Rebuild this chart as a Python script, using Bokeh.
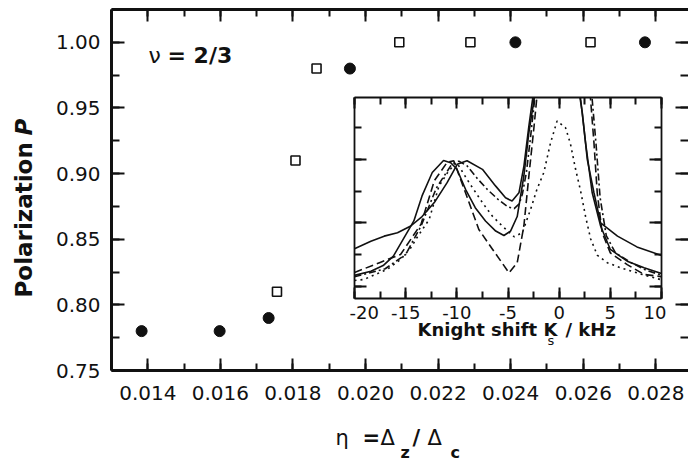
import math
from bokeh.plotting import figure
from bokeh.models import (Range1d, LinearAxis, Label, SingleIntervalTicker,
                          NumeralTickFormatter)
from bokeh.embed import file_html
from bokeh.resources import INLINE

FONT = "DejaVu Sans"
INK = "#111111"
W, H = 688, 461

# ---------------- main panel data ----------------
eta_filled = [0.01383, 0.01598, 0.01733, 0.01957, 0.02413, 0.0277]
pol_filled = [0.78, 0.78, 0.79, 0.98, 1.00, 1.00]
eta_open = [0.01756, 0.01807, 0.01865, 0.02093, 0.02289, 0.0262]
pol_open = [0.81, 0.91, 0.98, 1.00, 1.00, 1.00]

# ---------------- inset spectra (Knight shift kHz, intensity a.u.) ----------------
kA = [-20, -18.4, -17.2, -16.2, -14.2, -13.4, -12.4, -11.3, -10.6, -10.0, -9.15, -8.2, -7.2, -6.2,
      -5.4, -4.75, -4.1, -3.45, -2.96, -2.45, -2.2, 1.9, 2.1, 2.58, 3.23, 4.05, 5.0, 6.65, 8.3, 10]
yA = [0.34, 0.47, 0.65, 0.95, 2.06, 2.85, 3.59, 3.97, 3.9, 3.7, 3.06, 2.48, 2.06, 1.74,
      1.6, 1.74, 2.2, 3.48, 4.85, 5.9, 6.6, 6.6, 5.9, 4.53, 2.95, 1.9, 1.16, 0.79, 0.58, 0.4]

kB = [-20, -18.4, -17.1, -15.8, -14.5, -13.4, -12.2, -10.95, -9.96, -9.0, -7.5, -6.2, -5.24, -4.6,
      -3.93, -3.44, -2.96, -2.6, -2.4, 1.85, 2.03, 2.26, 2.75, 3.4, 4.05, 5.7, 7.6, 10]
yB = [1.18, 1.42, 1.58, 1.69, 1.9, 2.2, 2.64, 3.27, 3.85, 3.96, 3.69, 3.16, 2.79, 2.69,
      2.95, 3.8, 5.06, 5.9, 6.6, 6.6, 5.96, 5.48, 4.0, 2.95, 2.0, 1.58, 1.24, 0.97]

kC = [-20, -17.5, -15.5, -13.5, -12.2, -10.95, -10.3, -9.15, -7.85, -6.5, -4.9, -4.1, -3.45,
      -2.96, -2.45, -2.2, -2.0, 2.9, 3.07, 3.4, 3.72, 4.2, 5.0, 6.65, 8.3, 10]
yC = [0.43, 0.75, 1.0, 1.96, 3.33, 3.91, 3.96, 2.95, 1.79, 1.16, 0.42, 0.74, 1.9,
      3.48, 5.06, 5.9, 6.6, 6.6, 5.9, 4.53, 2.95, 1.69, 1.05, 0.68, 0.37, 0.3]

kD = [-20, -17, -15, -13.5, -12, -10.5, -9.8, -9.0, -8.0, -7.0, -6.0, -5.0, -4.4, -3.9, -3.6,
      -3.2, -2.8, -2.4, -2.2, 3.0, 3.2, 3.6, 4.0, 4.6, 5.5, 7, 8.5, 10]
yD = [0.3, 0.55, 1.0, 1.9, 3.1, 3.85, 3.95, 3.8, 3.4, 3.05, 2.75, 2.5, 2.45, 2.6, 2.9,
      3.6, 4.7, 5.9, 6.6, 6.6, 6.0, 4.5, 2.8, 1.6, 1.05, 0.75, 0.5, 0.35]

kE = [-20, -19.1, -16.8, -15.5, -14.5, -13.9, -12.7, -11.75, -10.8, -10.0, -8.8, -7.5, -6.55,
      -5.56, -4.4, -3.6, -2.8, -2.17, -1.5, -0.84, -0.2, 0.63, 1.1, 1.6, 2.1, 2.58, 3.07, 3.72,
      4.7, 6.0, 8.0, 10]
yE = [0.18, 0.21, 0.53, 0.84, 1.21, 1.53, 2.11, 3.16, 3.64, 3.9, 3.27, 2.64, 2.22,
      1.9, 1.56, 1.69, 2.42, 3.06, 3.59, 4.53, 5.22, 5.0, 4.5, 3.7, 3.0, 2.2, 1.5, 0.98,
      0.74, 0.58, 0.38, 0.2]


def style_axis(ax, lw, tick_in, minor_in, labels, size="20px", standoff=10):
    ax.axis_line_width = lw
    ax.axis_line_color = INK
    ax.major_tick_line_width = 2
    ax.minor_tick_line_width = 2
    ax.major_tick_line_color = INK
    ax.minor_tick_line_color = INK
    ax.major_tick_in = tick_in
    ax.major_tick_out = 0
    ax.minor_tick_in = minor_in
    ax.minor_tick_out = 0
    ax.major_label_text_font = FONT
    ax.major_label_text_color = INK
    if labels:
        ax.major_label_text_font_size = size
        ax.major_label_standoff = standoff
    else:
        ax.major_label_text_font_size = "0px"
        ax.major_label_standoff = 0


# ---------------- main figure ----------------
p = figure(width=W, height=H, x_range=Range1d(0.013, 0.0289), y_range=Range1d(0.75, 1.025),
           output_backend="svg", toolbar_location=None,
           x_axis_location=None, y_axis_location=None,
           min_border_left=111, min_border_top=9, min_border_bottom=91, min_border_right=0)
p.outline_line_color = None
p.grid.visible = False
p.background_fill_color = "white"

for loc in ("below", "above"):
    ax = LinearAxis(ticker=SingleIntervalTicker(interval=0.002, num_minor_ticks=2),
                    formatter=NumeralTickFormatter(format="0.000"))
    style_axis(ax, 3, 12, 7, loc == "below", standoff=15)
    p.add_layout(ax, loc)
for loc in ("left", "right"):
    ax = LinearAxis(ticker=SingleIntervalTicker(interval=0.05, num_minor_ticks=2),
                    formatter=NumeralTickFormatter(format="0.00"))
    style_axis(ax, 3, 13, 8, loc == "left", standoff=11)
    if loc == "right":
        ax.axis_line_alpha = 0
    p.add_layout(ax, loc)

p.scatter(eta_filled, pol_filled, marker="circle", size=11, color=INK)
p.scatter(eta_open, pol_open, marker="square", size=9, fill_color="white",
          line_color=INK, line_width=1.6)

SHIFT = 0.45  # empirical baseline correction (fraction of font size)


def lab(fig, text, x, y, size, style="normal", angle=0.0):
    fs = float(size.replace("px", ""))
    if angle:
        x = x - SHIFT * fs
    else:
        y = y + SHIFT * fs
    fig.add_layout(Label(x=x, y=y, x_units="screen", y_units="screen", text=text,
                         text_font=FONT, text_font_size=size, text_font_style=style,
                         text_color=INK, text_baseline="alphabetic", text_align="left",
                         angle=angle))


# nu = 2/3 annotation (inside the main frame)
lab(p, "\u03bd", 37, 305, "22px")
lab(p, "= 2/3", 56, 305, "22px", "bold")

# ---------------- inset figure ----------------
ins = figure(frame_width=307, frame_height=201, x_range=Range1d(-20, 10), y_range=Range1d(-0.39, 5.96),
             output_backend="svg", toolbar_location=None,
             x_axis_location=None, y_axis_location=None,
             min_border_left=5, min_border_right=5, min_border_top=5, min_border_bottom=30)
ins.outline_line_color = None
ins.grid.visible = False
ins.background_fill_color = "white"
ins.border_fill_alpha = 0
ins.styles = {"position": "absolute", "left": "349px", "top": "92px"}

for loc in ("below", "above"):
    ax = LinearAxis(ticker=SingleIntervalTicker(interval=5, num_minor_ticks=2),
                    formatter=NumeralTickFormatter(format="0"))
    style_axis(ax, 1.8, 11, 7, loc == "below", size="18px", standoff=7)
    ins.add_layout(ax, loc)
for loc in ("left", "right"):
    ax = LinearAxis(ticker=SingleIntervalTicker(interval=2, num_minor_ticks=2))
    style_axis(ax, 1.8, 12, 7, False)
    ins.add_layout(ax, loc)

ins.line(kA, yA, line_color=INK, line_width=1.6)
ins.line(kB, yB, line_color=INK, line_width=1.6)
ins.line(kC, yC, line_color=INK, line_width=1.6, line_dash="8 4")
ins.line(kD, yD, line_color=INK, line_width=1.6, line_dash="7 3 2 3")
ins.line(kE, yE, line_color=INK, line_width=1.6, line_dash="2 4")

# ---------------- transparent text overlay (page pixel positions) ----------------
txt = figure(width=W, height=H, x_range=Range1d(0, W), y_range=Range1d(0, H),
             output_backend="svg", toolbar_location=None,
             x_axis_location=None, y_axis_location=None,
             min_border_left=0, min_border_right=0, min_border_top=0, min_border_bottom=0)
txt.outline_line_color = None
txt.grid.visible = False
txt.background_fill_alpha = 0
txt.border_fill_alpha = 0
txt.styles = {"position": "absolute", "left": "0px", "top": "0px", "pointer-events": "none"}


def T(text, px, py, size, style="normal", angle=0.0):
    # px, py: page pixels from the top-left corner (baseline start)
    lab(txt, text, px, H - py, size, style, angle)


# y-axis title (rotated)
T("Polarization", 34, 297, "23px", "bold", math.pi / 2)
T("P", 34, 135, "23px", "bold italic", math.pi / 2)

# x-axis title  eta = Delta_z / Delta_c
T("\u03b7", 335, 447, "21px")
T("=", 362, 447, "21px", "bold")
T("\u0394", 380, 447, "21px")
T("z", 400, 459, "16px", "bold")
T("/", 412, 447, "21px", "bold")
T("\u0394", 427, 447, "21px")
T("c", 450, 459, "16px", "bold")

# inset x-axis title  Knight shift K_s / kHz
T("Knight shift K", 417, 337, "18px", "bold")
T("s", 547, 346, "13px")
T("/ kHz", 565, 337, "18px", "bold")

open("out.html", "w").write(file_html([p, ins, txt], INLINE))
